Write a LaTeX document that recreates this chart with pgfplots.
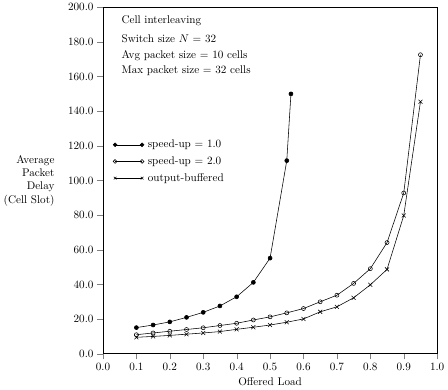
\documentclass[border=0pt]{standalone}
\usepackage{pgfplots}
\pgfplotsset{compat=1.18}
\begin{document}
\begin{tikzpicture}
\begin{axis}[
  scale only axis,
  width=300pt, height=311pt,
  xmin=0, xmax=1.0, ymin=0, ymax=200,
  xtick={0,0.1,...,1.0}, ytick={0,20,...,200},
  xticklabel style={/pgf/number format/.cd,fixed,fixed zerofill,precision=1},
  yticklabel style={/pgf/number format/.cd,fixed,fixed zerofill,precision=1},
  tick align=outside, tick pos=left,
  major tick length=5pt,
  axis line style={line width=0.5pt},
  xlabel={Offered Load},
  every axis y label/.style={at={(rel axis cs:0,0.5)},anchor=east,xshift=-40pt,align=right},
  ylabel={Average\\Packet\\Delay\\(Cell Slot)},
  legend style={draw=none, fill=none, at={(rel axis cs:0,1)}, anchor=north west, xshift=6pt, yshift=-115pt, row sep=2.5pt, font=\normalsize},
  legend cell align=left,
  legend image code/.code={\draw[#1,mark size=1.7pt] plot coordinates {(0cm,0cm) (0.85cm,0cm)};},
  every axis plot/.append style={line width=0.5pt, black},
]
\addplot[mark=*, mark size=1.8pt] coordinates {
(0.10,15.1) (0.15,16.6) (0.20,18.4) (0.25,21.0) (0.30,23.9) (0.35,27.6) (0.40,32.9) (0.45,41.2) (0.50,55.2) (0.55,111.5) (0.5625,150.0)};
\addlegendentry{\hspace{1.5pt}speed-up $=$ 1.0}
\addplot[mark=o, mark size=1.8pt] coordinates {
(0.10,11.0) (0.15,12.0) (0.20,13.0) (0.25,14.0) (0.30,15.0) (0.35,16.3) (0.40,17.6) (0.45,19.5) (0.50,21.3) (0.55,23.6) (0.60,26.1) (0.65,30.0) (0.70,33.8) (0.75,40.6) (0.80,49.1) (0.85,64.2) (0.90,92.8) (0.95,172.6)};
\addlegendentry{\hspace{1.5pt}speed-up $=$ 2.0}
\addplot[mark=x, mark size=2.5pt] coordinates {
(0.10,9.5) (0.15,10.0) (0.20,10.6) (0.25,11.3) (0.30,12.0) (0.35,12.8) (0.40,14.1) (0.45,15.3) (0.50,16.6) (0.55,18.2) (0.60,20.1) (0.65,24.2) (0.70,27.1) (0.75,32.3) (0.80,39.8) (0.85,48.7) (0.90,79.8) (0.95,145.5)};
\addlegendentry{\hspace{1.5pt}output-buffered}
\node[anchor=north west, align=left, inner sep=0pt] at (rel axis cs:0,1) [xshift=16.5pt, yshift=-7pt]
  {Cell interleaving\\[5.5pt] Switch size $N$ $=$ 32\\[2pt] Avg packet size $=$ 10 cells\\[2pt] Max packet size $=$ 32 cells};
\end{axis}
\end{tikzpicture}
\end{document}
